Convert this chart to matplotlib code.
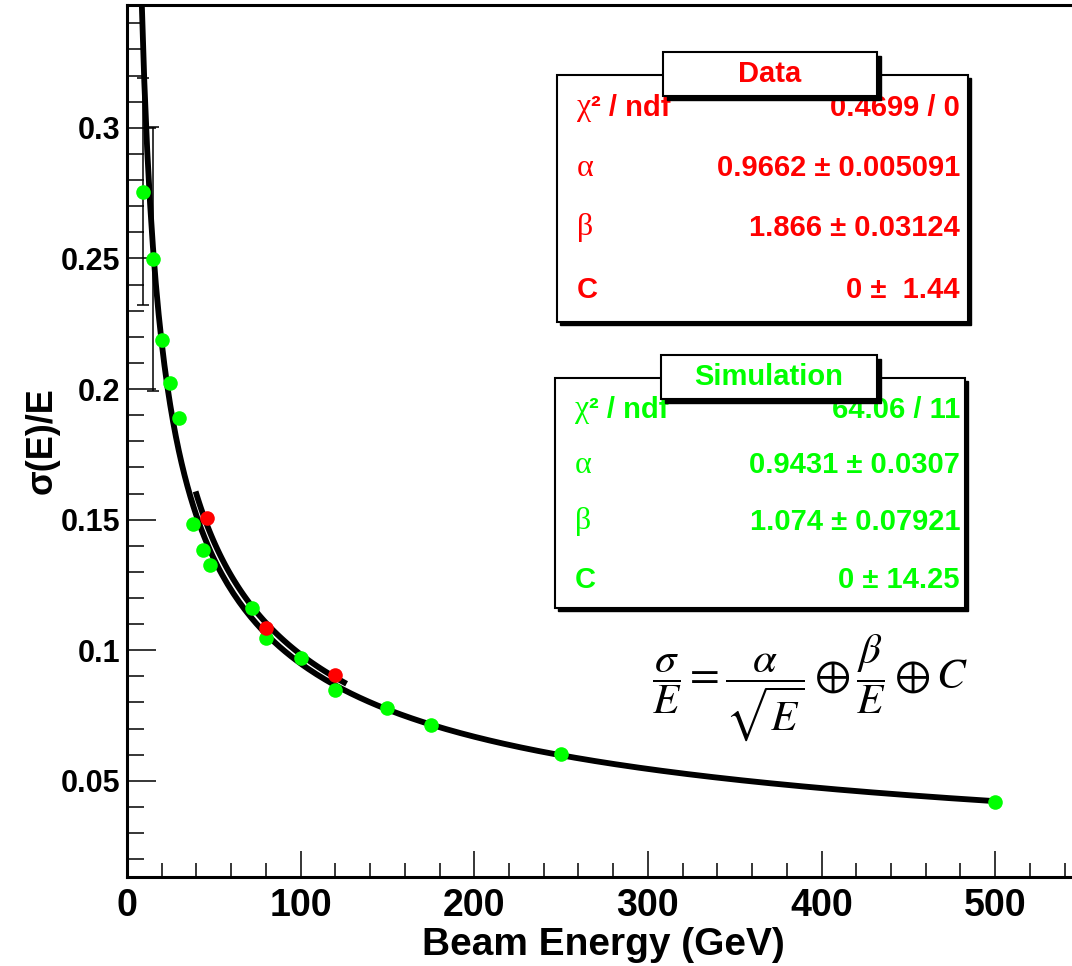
import numpy as np
import matplotlib
matplotlib.use('Agg')
import matplotlib.pyplot as plt
from matplotlib.patches import Rectangle
from matplotlib.ticker import MultipleLocator, FuncFormatter

plt.rcParams['font.family'] = ['Liberation Sans', 'DejaVu Sans']
plt.rcParams['mathtext.fontset'] = 'stix'

# simulation points (green)
sim_energy = [9, 15, 20, 25, 30, 38, 44, 48, 72, 80, 100, 120, 150, 175, 250, 500]
sim_resolution = [0.2755, 0.2498, 0.2188, 0.2024, 0.189, 0.1484, 0.1384, 0.1327,
                  0.116, 0.1047, 0.097, 0.0848, 0.0779, 0.0714, 0.0603, 0.042]
# only the two lowest energies show visible error bars
sim_err_energy = [9, 15]
sim_err_resolution = [0.2755, 0.2498]
sim_err = [0.0435, 0.0505]

# test beam data points (red)
data_energy = [46, 80, 120]
data_resolution = [0.1507, 0.1086, 0.0906]

# fit parameters from the stat boxes
data_alpha, data_beta, data_c = 0.9662, 1.866, 0.0
sim_alpha, sim_beta, sim_c = 0.9431, 1.074, 0.0
data_fit_range = (40, 125)
sim_fit_range = (5, 500)

data_rows = [('\u03c7', '\u00b2 / ndf', '0.4699 / 0'),
             ('\u03b1', '', '0.9662 \u00b1 0.005091'),
             ('\u03b2', '', '1.866 \u00b1 0.03124'),
             ('C', '', '0 \u00b1  1.44')]
sim_rows = [('\u03c7', '\u00b2 / ndf', '64.06 / 11'),
            ('\u03b1', '', '0.9431 \u00b1 0.0307'),
            ('\u03b2', '', '1.074 \u00b1 0.07921'),
            ('C', '', '0 \u00b1 14.25')]

W, H = 1072, 966
RED = '#ff0000'
GREEN = '#00ff00'


def px(x, y):
    return x / W, 1 - y / H


def resolution(e, a, b, c):
    return np.sqrt((a / np.sqrt(e)) ** 2 + (b / e) ** 2 + c ** 2)


def draw_box(fig, left, top, right, bottom, shadow, z):
    x0, y0 = px(left, bottom)
    w, h = (right - left) / W, (bottom - top) / H
    fig.add_artist(Rectangle((x0 + shadow / W, y0 - shadow / H), w, h, transform=fig.transFigure,
                             facecolor='black', edgecolor='black', zorder=z))
    fig.add_artist(Rectangle((x0, y0), w, h, transform=fig.transFigure,
                             facecolor='white', edgecolor='black', linewidth=1.5, zorder=z + 0.1))


def draw_stats(fig, title, rows, color, box, title_box, row_y, left_x, right_x):
    draw_box(fig, *box, shadow=3, z=5)
    for (sym, rest, value), y in zip(rows, row_y):
        if sym == 'C':
            fig.text(*px(left_x, y), sym, color=color, fontsize=21, fontweight='bold',
                     ha='left', va='center', zorder=6)
        else:
            fig.text(*px(left_x, y), sym, color=color, fontsize=23, family='Liberation Serif',
                     ha='left', va='center', zorder=6)
        if rest:
            fig.text(*px(left_x + 14, y), rest, color=color, fontsize=21, fontweight='bold',
                     ha='left', va='center', zorder=6)
        fig.text(*px(right_x, y), value, color=color, fontsize=21, fontweight='bold',
                 ha='right', va='center', zorder=6)
    draw_box(fig, *title_box, shadow=4, z=7)
    tl, tt, tr, tb = title_box
    fig.text(*px((tl + tr) / 2, (tt + tb) / 2), title, color=color, fontsize=21,
             fontweight='bold', ha='center', va='center', zorder=9)


fig = plt.figure(figsize=(W / 100, H / 100), dpi=100)
ax = fig.add_axes([127 / W, (H - 877) / H, 948 / W, 872 / H])

e_sim = np.linspace(*sim_fit_range, 300)
e_data = np.linspace(*data_fit_range, 100)
ax.plot(e_sim, resolution(e_sim, sim_alpha, sim_beta, sim_c), color='black', lw=4.2, zorder=3)
ax.plot(e_data, resolution(e_data, data_alpha, data_beta, data_c), color='black', lw=4.2, zorder=3)

ax.errorbar(sim_err_energy, sim_err_resolution, yerr=sim_err, fmt='none', ecolor='black',
            elinewidth=1.1, capsize=4, capthick=1.1, zorder=2)
ax.plot(sim_energy, sim_resolution, 'o', color=GREEN, markersize=10.5, markeredgewidth=0, zorder=4)
ax.plot(data_energy, data_resolution, 'o', color=RED, markersize=10.5, markeredgewidth=0, zorder=4)

ax.set_xlim(0, 546)
ax.set_ylim(0.0132, 0.347)

ax.xaxis.set_major_locator(MultipleLocator(100))
ax.xaxis.set_minor_locator(MultipleLocator(20))
ax.yaxis.set_major_locator(MultipleLocator(0.05))
ax.yaxis.set_minor_locator(MultipleLocator(0.01))
ax.yaxis.set_major_formatter(FuncFormatter(lambda v, p: '{:g}'.format(round(v, 3))))

ax.tick_params(axis='x', which='major', direction='in', length=19, width=1.1, pad=8,
               labelsize=27)
ax.tick_params(axis='x', which='minor', direction='in', length=10, width=1.1)
ax.tick_params(axis='y', which='major', direction='in', length=21, width=1.1, pad=5,
               labelsize=22)
ax.tick_params(axis='y', which='minor', direction='in', length=12, width=1.1)
for label in ax.get_xticklabels() + ax.get_yticklabels():
    label.set_fontweight('bold')

for side in ['left', 'bottom', 'top', 'right']:
    ax.spines[side].set_linewidth(2.2)

ax.set_xlabel('Beam Energy (GeV)', fontsize=28, fontweight='bold')
ax.xaxis.label.set_va('center')
ax.xaxis.set_label_coords(0.502, -0.078)
ax.set_ylabel('\u03c3(E)/E', fontsize=26, fontweight='bold')
ax.yaxis.label.set_va('center')
ax.yaxis.set_label_coords(-0.09, 0.5)

draw_stats(fig, 'Data', data_rows, RED, (557, 75, 968, 322), (663, 52, 877, 96),
           [108, 168, 228, 290], 577, 960)
draw_stats(fig, 'Simulation', sim_rows, GREEN, (555, 378, 965, 608), (661, 355, 877, 399),
           [410, 465, 522, 580], 575, 960)

fig.text(*px(810, 688), r'$\dfrac{\sigma}{E} = \dfrac{\alpha}{\sqrt{E}} \oplus \dfrac{\beta}{E} \oplus C$',
         fontsize=31, ha='center', va='center')

fig.savefig('out.png', dpi=100)
